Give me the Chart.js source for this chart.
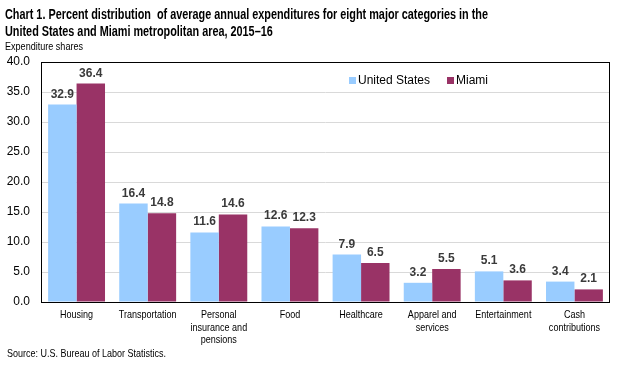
<!DOCTYPE html>
<html>
<head>
<meta charset="utf-8">
<script src="https://cdn.jsdelivr.net/npm/chart.js@4.4.1/dist/chart.umd.min.js"></script>
<style>
  html, body { margin: 0; padding: 0; background: #fff; }
  #wrap { position: relative; width: 628px; height: 374px; }
</style>
</head>
<body>
<div id="wrap"><canvas id="c" width="628" height="374"></canvas></div>
<script>
const categories = [
  ["Housing"],
  ["Transportation"],
  ["Personal", "insurance and", "pensions"],
  ["Food"],
  ["Healthcare"],
  ["Apparel and", "services"],
  ["Entertainment"],
  ["Cash", "contributions"]
];
const unitedStates = [32.9, 16.4, 11.6, 12.6, 7.9, 3.2, 5.1, 3.4];
const miami = [36.4, 14.8, 14.6, 12.3, 6.5, 5.5, 3.6, 2.1];
const seriesNames = ["United States", "Miami"];
const titleLines = [
  "Chart 1. Percent distribution  of average annual expenditures for eight major categories in the",
  "United States and Miami metropolitan area, 2015\u201316"
];
const yAxisTitle = "Expenditure shares";
const sourceText = "Source: U.S. Bureau of Labor Statistics.";
const yMin = 0, yMax = 40, yStep = 5;

const colors = ["#99CCFF", "#993366"];
const SANS = "'Liberation Sans', Arial, sans-serif";

function condensed(ctx, text, x, y, f) {
  ctx.save();
  ctx.translate(x, y);
  ctx.scale(f, 1);
  ctx.fillText(text, 0, 0);
  ctx.restore();
}

const textPlugin = {
  id: 'texts',
  afterDraw(chart) {
    const ctx = chart.ctx;
    const a = chart.chartArea;
    ctx.save();
    // border around plot area
    ctx.strokeStyle = '#000';
    ctx.lineWidth = 1;
    ctx.strokeRect(Math.round(a.left) + 0.5, Math.round(a.top) + 0.5,
      Math.round(a.right - a.left) - 1, Math.round(a.bottom - a.top));
    // title
    ctx.fillStyle = '#000';
    ctx.textAlign = 'left';
    ctx.textBaseline = 'middle';
    ctx.font = "bold 14px " + SANS;
    const tf = 483 / ctx.measureText(titleLines[0]).width;
    condensed(ctx, titleLines[0], 5, 15, tf);
    condensed(ctx, titleLines[1], 5, 32, tf);
    ctx.font = "11px " + SANS;
    condensed(ctx, yAxisTitle, 5, 47, 78 / ctx.measureText(yAxisTitle).width);
    condensed(ctx, sourceText, 7, 354, 159 / ctx.measureText(sourceText).width);
    // x category labels
    const xs = chart.scales.x;
    ctx.textAlign = 'center';
    categories.forEach((lines, i) => {
      const cx = xs.getPixelForValue(i);
      lines.forEach((ln, k) => condensed(ctx, ln, cx, 315 + k * 12.5, 0.82));
    });
    // legend
    ctx.textAlign = 'left';
    ctx.font = "12px " + SANS;
    const lx = [349, 447];
    seriesNames.forEach((n, i) => {
      ctx.fillStyle = colors[i];
      ctx.fillRect(lx[i], 77, 7, 7);
      ctx.fillStyle = '#000';
      ctx.fillText(n, lx[i] + 9, 81);
    });
    // data labels
    ctx.font = "bold 12px " + SANS;
    ctx.fillStyle = '#3a3a3a';
    ctx.textAlign = 'center';
    ctx.textBaseline = 'alphabetic';
    chart.data.datasets.forEach((ds, di) => {
      const meta = chart.getDatasetMeta(di);
      meta.data.forEach((bar, i) => {
        ctx.fillText(ds.data[i].toFixed(1), bar.x, bar.y - 7);
      });
    });
    ctx.restore();
  }
};

new Chart(document.getElementById('c'), {
  type: 'bar',
  data: {
    labels: categories,
    datasets: [
      { label: seriesNames[0], data: unitedStates, backgroundColor: colors[0] },
      { label: seriesNames[1], data: miami, backgroundColor: colors[1] }
    ]
  },
  options: {
    responsive: false,
    animation: false,
    events: [],
    layout: { padding: { left: 0, right: 18, top: 62, bottom: 0 } },
    plugins: { legend: { display: false }, title: { display: false }, tooltip: { enabled: false } },
    datasets: { bar: { categoryPercentage: 0.8, barPercentage: 1.0 } },
    scales: {
      x: {
        grid: { display: false, drawTicks: false },
        border: { display: false },
        ticks: { display: false, autoSkip: false },
        afterFit(s) { s.height = 72; }
      },
      y: {
        min: yMin, max: yMax,
        grid: { color: '#d9d9d9', drawTicks: false },
        border: { display: false },
        ticks: { stepSize: yStep, color: '#000', font: { family: SANS, size: 12 }, padding: 11,
          callback: v => Number(v).toFixed(1) },
        afterFit(s) { s.width = 41; }
      }
    }
  },
  plugins: [textPlugin]
});
</script>
</body>
</html>
